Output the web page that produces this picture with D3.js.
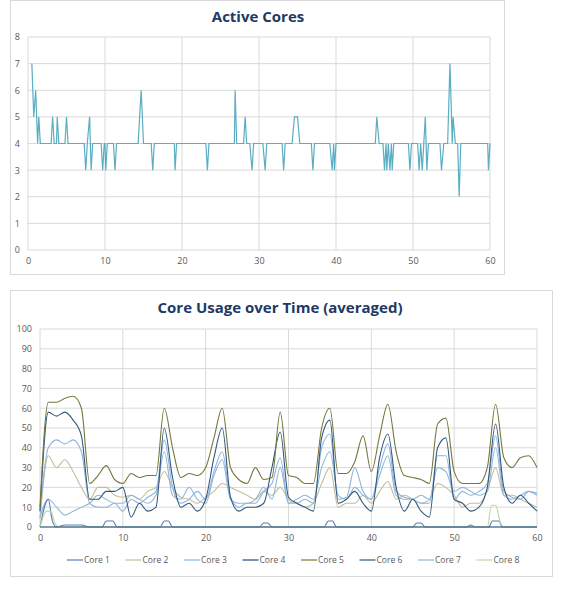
<!DOCTYPE html>
<html><head><meta charset="utf-8">
<script src="https://cdn.jsdelivr.net/npm/d3@7"></script>
<style>body{margin:0;background:#fff;font-family:"Open Sans",sans-serif}</style>
</head><body><svg id="c" width="570" height="600"></svg>
<script>
// Active cores
const activeX=[0.5,0.75,1,1.25,1.4,1.6,3,3.2,3.4,3.7,3.8,4,4.8,5,5.2,7.3,7.5,7.7,8,8.2,8.4,9.5,9.7,9.9,10,10.1,10.3,11.1,11.3,11.5,14.3,14.7,15,16,16.2,16.4,19,19.1,19.3,23.1,23.3,23.5,26.8,26.9,27.1,28,28.2,28.4,28.8,29.1,29.3,30.5,30.8,31,33,33.2,33.4,34.3,34.6,35,35.3,36.8,37,37.2,39.2,39.5,39.7,39.8,40,45.1,45.3,45.6,46.1,46.3,46.5,46.6,46.8,47,47.2,47.3,47.5,49.4,49.6,49.8,50.6,50.8,51,51.2,51.4,51.6,51.8,52,53.5,53.7,54,54.5,54.8,55.1,55.2,55.5,55.8,56,56.2,59.7,59.8,60];
const activeY=[7,5,6,4,5,4,4,5,4,4,5,4,4,5,4,4,3,4,5,3,4,4,3,4,4,3,4,4,3,4,4,6,4,4,3,4,4,3,4,4,3,4,4,6,4,4,5,4,4,3,4,4,3,4,4,3,4,4,5,5,4,4,3,4,4,3,4,3,4,4,5,4,4,3,4,3,4,3,4,3,4,4,3,4,4,3,4,3,4,5,3,4,4,3,4,4,7,4,5,4,4,2,4,4,3,4];
const xTicks=[0,10,20,30,40,50,60];
const activeYTicks=[0,1,2,3,4,5,6,7,8];
const usageYTicks=[0,10,20,30,40,50,60,70,80,90,100];
const coreNames=["Core 1","Core 2","Core 3","Core 4","Core 5","Core 6","Core 7","Core 8"];
const coreColors=["#4f81bd","#c4bd97","#8db3e2","#1f497d","#77773c","#31597c","#93b8d4","#c3d69b"];
const denseX=d3.range(0,61);
const core2=[4,36,30,34,28,20,14,20,20,16,15,16,14,18,20,28,20,15,14,12,15,18,22,20,18,16,14,18,16,20,14,12,10,12,22,30,10,12,12,16,12,18,23,14,16,14,12,14,22,20,16,10,12,12,18,30,16,16,14,12,10];
const core3=[8,40,44,42,44,38,12,10,10,12,8,14,12,15,18,44,20,12,14,18,14,28,38,15,10,12,12,18,22,35,12,12,14,12,40,47,14,15,30,18,14,30,42,18,15,14,12,12,36,36,14,18,16,18,22,46,18,15,14,18,16];
const core5=[10,63,63,65,66,60,22,26,31,24,22,27,25,26,26,60,40,25,27,26,30,45,60,30,24,22,30,24,25,58,26,25,22,22,50,60,27,27,33,46,28,46,62,38,26,25,24,22,52,55,28,22,22,22,30,62,35,30,35,36,30];
const core6=[8,58,56,58,54,46,14,14,18,18,20,5,12,8,10,50,25,10,12,8,14,35,50,15,8,10,10,12,30,48,15,12,10,8,45,54,12,14,18,12,8,35,47,20,8,14,8,5,40,45,14,12,8,10,20,52,20,12,16,12,8];
const core7=[5,14,10,6,8,10,12,16,14,12,12,16,14,12,16,38,16,14,20,14,12,26,34,14,12,12,14,20,14,30,12,14,16,14,30,38,16,14,20,16,14,26,36,16,14,14,16,14,30,28,18,20,18,16,18,40,16,14,16,18,17];
const core1X=[0,1,1.5,2,3,4,5,6,7.5,8,8.8,9.3,14.5,15,15.5,16,26.5,27,27.5,28,34.3,34.8,35.3,35.8,45,45.5,46,46.5,51.5,52,52.5,54.2,54.6,55.4,55.8,60];
const core1Y=[0,14,3,0,1,1,1,0,0,3,3,0,0,3,3,0,0,2,2,0,0,3,3,0,0,2,2,0,0,1,0,0,3,3,0,0];
const core4X=[0,60], core4Y=[0,0];
const core8X=[0,0.8,1.3,1.8,2.2,54,54.5,55,55.6,56,60];
const core8Y=[0,8,8,2,0,0,11,11,2,0,0];

const svg=d3.select("#c");
const grid="#d9d9d9", txt="#595959";
function frame(x,y,w,h){svg.append("rect").attr("x",x).attr("y",y).attr("width",w).attr("height",h).attr("fill","#fff").attr("stroke","#d9d9d9");}
function axes(g,x,y,yt){
  g.append("g").selectAll("line").data(yt).join("line").attr("x1",x.range()[0]).attr("x2",x.range()[1]).attr("y1",d=>y(d)).attr("y2",d=>y(d)).attr("stroke",grid);
  g.append("g").selectAll("line").data(xTicks).join("line").attr("y1",y.range()[0]).attr("y2",y.range()[1]).attr("x1",d=>x(d)).attr("x2",d=>x(d)).attr("stroke",grid);
  const ya=g.append("g").attr("transform",`translate(${x.range()[0]},0)`).call(d3.axisLeft(y).tickValues(yt).tickSize(0).tickPadding(8));
  const xa=g.append("g").attr("transform",`translate(0,${y.range()[0]})`).call(d3.axisBottom(x).tickValues(xTicks).tickSize(0).tickPadding(8));
  [ya,xa].forEach(a=>{a.select(".domain").remove();a.selectAll("text").attr("fill",txt).attr("font-size",9).attr("font-family","Open Sans");});
}
// top chart
frame(10.5,0.5,494,274);
svg.append("text").attr("x",258).attr("y",22).attr("text-anchor","middle").attr("font-weight","bold").attr("font-size",15).attr("fill","#1f3864").text("Active Cores");
const x1=d3.scaleLinear().domain([0,60]).range([28,490]);
const y1=d3.scaleLinear().domain([0,8]).range([250,37]);
const g1=svg.append("g");axes(g1,x1,y1,activeYTicks);
g1.append("path").datum(activeX.map((d,i)=>[d,activeY[i]])).attr("fill","none").attr("stroke","#5aaec2").attr("stroke-width",1.2)
  .attr("d",d3.line().x(d=>x1(d[0])).y(d=>y1(d[1])));
// bottom chart
frame(10.5,290.5,542,286);
svg.append("text").attr("x",280).attr("y",313).attr("text-anchor","middle").attr("font-weight","bold").attr("font-size",15).attr("fill","#1f3864").text("Core Usage over Time (averaged)");
const x2=d3.scaleLinear().domain([0,60]).range([40,537]);
const y2=d3.scaleLinear().domain([0,100]).range([527,329]);
const g2=svg.append("g");axes(g2,x2,y2,usageYTicks);
const series=[
 [core1X,core1Y],[denseX,core2],[denseX,core3],[core4X,core4Y],[denseX,core5],[denseX,core6],[denseX,core7],[core8X,core8Y]];
const order=[1,6,2,0,7,5,4,3];
const line2=d3.line().x(d=>x2(d[0])).y(d=>y2(d[1])).curve(d3.curveMonotoneX);
order.forEach(i=>{
  const [xs,ys]=series[i];
  g2.append("path").datum(xs.map((d,j)=>[d,ys[j]])).attr("fill","none").attr("stroke",coreColors[i]).attr("stroke-width",1.1).attr("d",line2);
});
// legend
const lg=svg.append("g").attr("transform","translate(0,560)");
coreNames.forEach((n,i)=>{
  const lx=67+i*58.5;
  lg.append("line").attr("x1",lx).attr("x2",lx+16).attr("y1",0).attr("y2",0).attr("stroke",coreColors[i]).attr("stroke-width",1.2);
  lg.append("text").attr("x",lx+17).attr("y",3).attr("font-size",8.5).attr("fill",txt).text(n);
});
</script></body></html>
